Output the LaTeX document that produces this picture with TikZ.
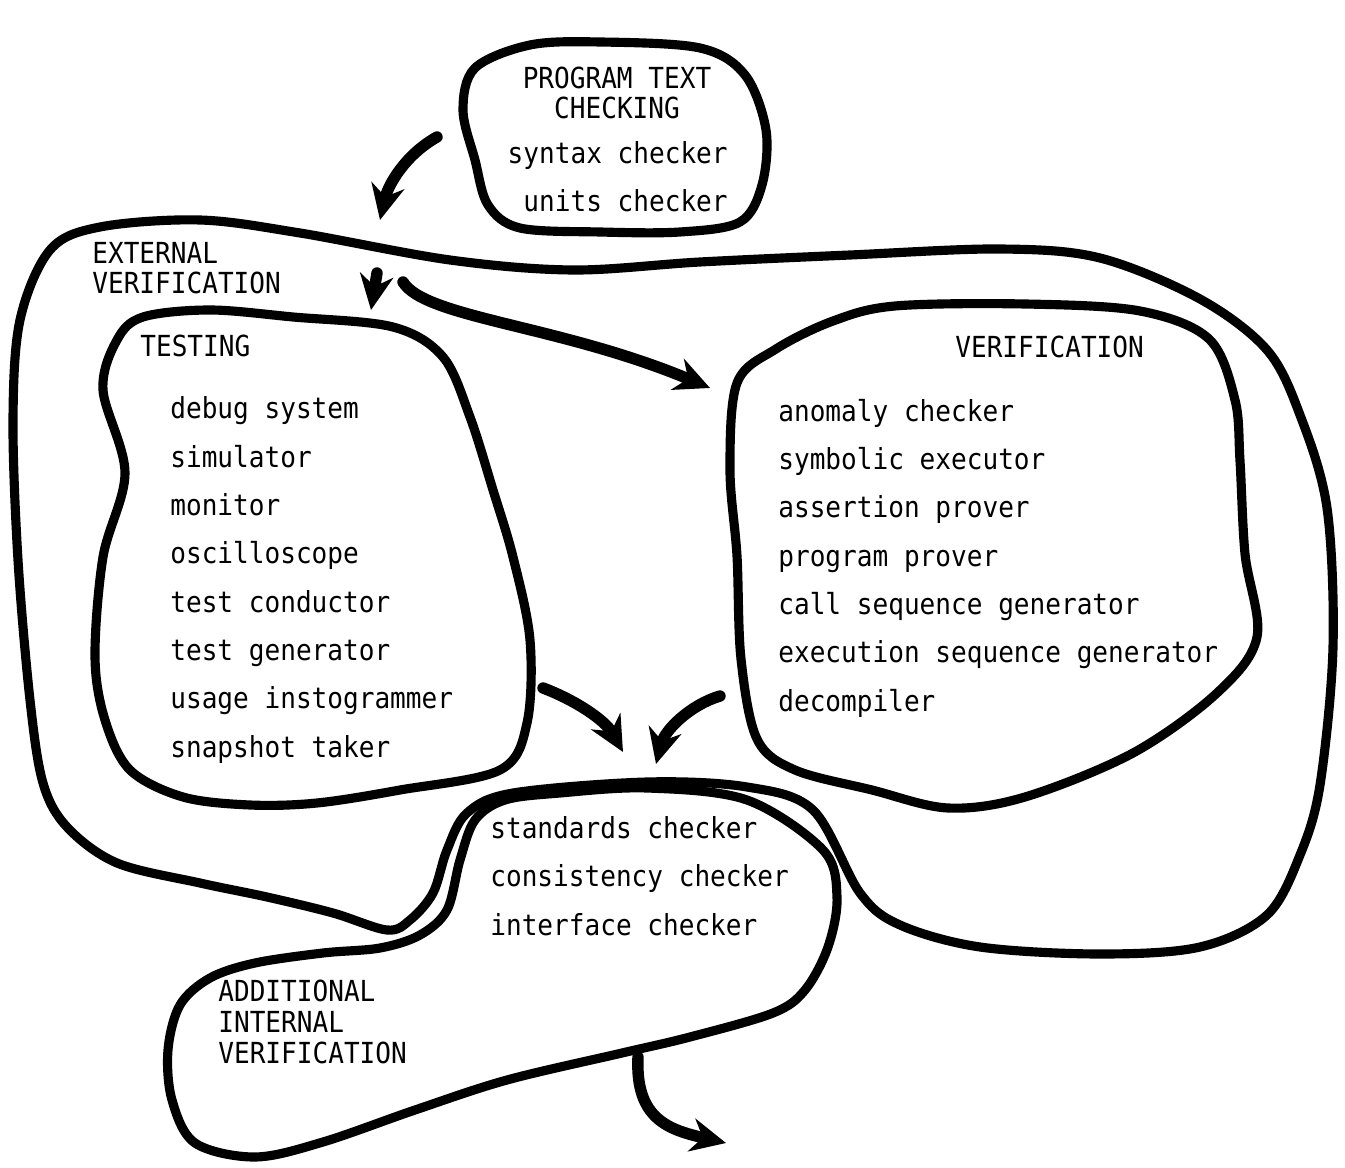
\documentclass[tikz,border=0pt]{standalone}
\usepackage{fontspec}
\usetikzlibrary{arrows.meta}
\newfontfamily\typer[FakeStretch=0.9]{DejaVu Sans Mono}
\tikzset{
  blob/.style     ={draw=black, line width=5.2pt, line join=round},
  flow/.style     ={line width=6.5pt, line cap=round, -{Stealth[length=20pt,width=19pt]}},
  capslbl/.style  ={font=\typer\fontsize{16.5}{17.6}\selectfont, align=left, inner sep=0pt},
  toollist/.style ={font=\typer\fontsize{16.5}{27.5}\selectfont, align=left, inner sep=0pt},
}

\begin{document}
\begin{tikzpicture}[x=0.02cm, y=-0.02cm]
  \useasboundingbox (0,0) rectangle (1345,1168);
  % program text checking
  \draw[blob] plot[smooth cycle, tension=0.55] coordinates {(600,42) (700,48) (745,75) (766,130) (762,185) (740,222) (680,232) (600,232) (520,228) (488,205) (475,160) (463,110) (475,68) (530,45)};
  \node[capslbl, align=center, anchor=base] (ptc) at (617,119) {PROGRAM TEXT\\CHECKING};
  \node[toollist, align=right, anchor=base east] (ptcl) at (728,212) {syntax checker\\units checker};
  % external verification
  \draw[blob] plot[smooth cycle, tension=0.55] coordinates {(100,227) (200,220) (300,233) (450,260) (573,270) (700,262) (850,255) (1000,249) (1100,258) (1200,299) (1267,350) (1300,415) (1327,508) (1333,647) (1320,785) (1300,855) (1267,915) (1200,947) (1100,954) (980,947) (900,925) (860,893) (813,810) (747,787) (647,782) (513,793) (467,813) (447,850) (433,893) (410,920) (387,930) (333,913) (267,897) (200,883) (117,863) (67,827) (43,783) (30,700) (18,560) (13,420) (20,320) (50,250)};
  \node[capslbl, anchor=base west] (ext) at (92,294) {EXTERNAL\\VERIFICATION};
  % testing
  \draw[blob] plot[smooth cycle, tension=0.55] coordinates {(143,317) (210,310) (293,317) (393,327) (443,357) (470,417) (493,490) (513,557) (530,640) (527,723) (500,770) (400,790) (317,803) (250,805) (183,797) (130,770) (105,720) (95,657) (103,557) (125,473) (103,390) (117,340)};
  \node[capslbl, anchor=base west] (tst) at (140,357) {TESTING};
  \node[toollist, anchor=base west] (tstl) at (170,757) {debug system\\simulator\\monitor\\oscilloscope\\test conductor\\test generator\\usage instogrammer\\snapshot taker};
  % verification
  \draw[blob] plot[smooth cycle, tension=0.55] coordinates {(895,306) (1025,304) (1140,311) (1209,339) (1235,400) (1240,461) (1245,554) (1257,637) (1217,693) (1133,753) (1025,797) (948,808) (872,790) (795,770) (757,739) (741,659) (737,556) (730,470) (737,383) (776,349) (833,321)};
  \node[capslbl, anchor=base west] (ver) at (955,358) {VERIFICATION};
  \node[toollist, anchor=base west] (verl) at (778,711) {anomaly checker\\symbolic executor\\assertion prover\\program prover\\call sequence generator\\execution sequence generator\\decompiler};
  % additional internal verification
  \draw[blob] plot[smooth cycle, tension=0.55] coordinates {(647,788) (747,800) (823,850) (837,897) (828,947) (805,990) (773,1013) (690,1037) (622,1053) (507,1080) (415,1110) (323,1142) (255,1157) (195,1143) (172,1100) (168,1050) (180,1005) (210,978) (255,963) (323,953) (380,948) (420,935) (447,910) (460,860) (475,820) (505,800) (560,793)};
  \node[toollist, anchor=base west] (aivl) at (490,935) {standards checker\\consistency checker\\interface checker};
  \node[capslbl, anchor=base west] (aiv) at (218,1063) {ADDITIONAL\\INTERNAL\\VERIFICATION};
  % flow arrows
  \coordinate (a1s) at (437,137);  \coordinate (a1e) at (380,220);
  \coordinate (a2s) at (377,273);  \coordinate (a2e) at (371,310);
  \coordinate (a3s) at (403,282);  \coordinate (a3e) at (710,388);
  \coordinate (a4s) at (543,688);  \coordinate (a4e) at (623,752);
  \coordinate (a5s) at (720,696);  \coordinate (a5e) at (656,764);
  \coordinate (a6s) at (638,1057); \coordinate (a6e) at (726,1143);
  \draw[flow] (a1s) .. controls (405,155) and (388,185) .. (a1e);
  \draw[flow] (a2s) -- (a2e);
  \draw[flow] (a3s) .. controls (425,318) and (560,325) .. (a3e);
  \draw[flow] (a4s) .. controls (575,700) and (605,720) .. (a4e);
  \draw[flow] (a5s) .. controls (690,705) and (665,730) .. (a5e);
  \draw[flow] (a6s) .. controls (635,1120) and (670,1130) .. (a6e);
\end{tikzpicture}
\end{document}
